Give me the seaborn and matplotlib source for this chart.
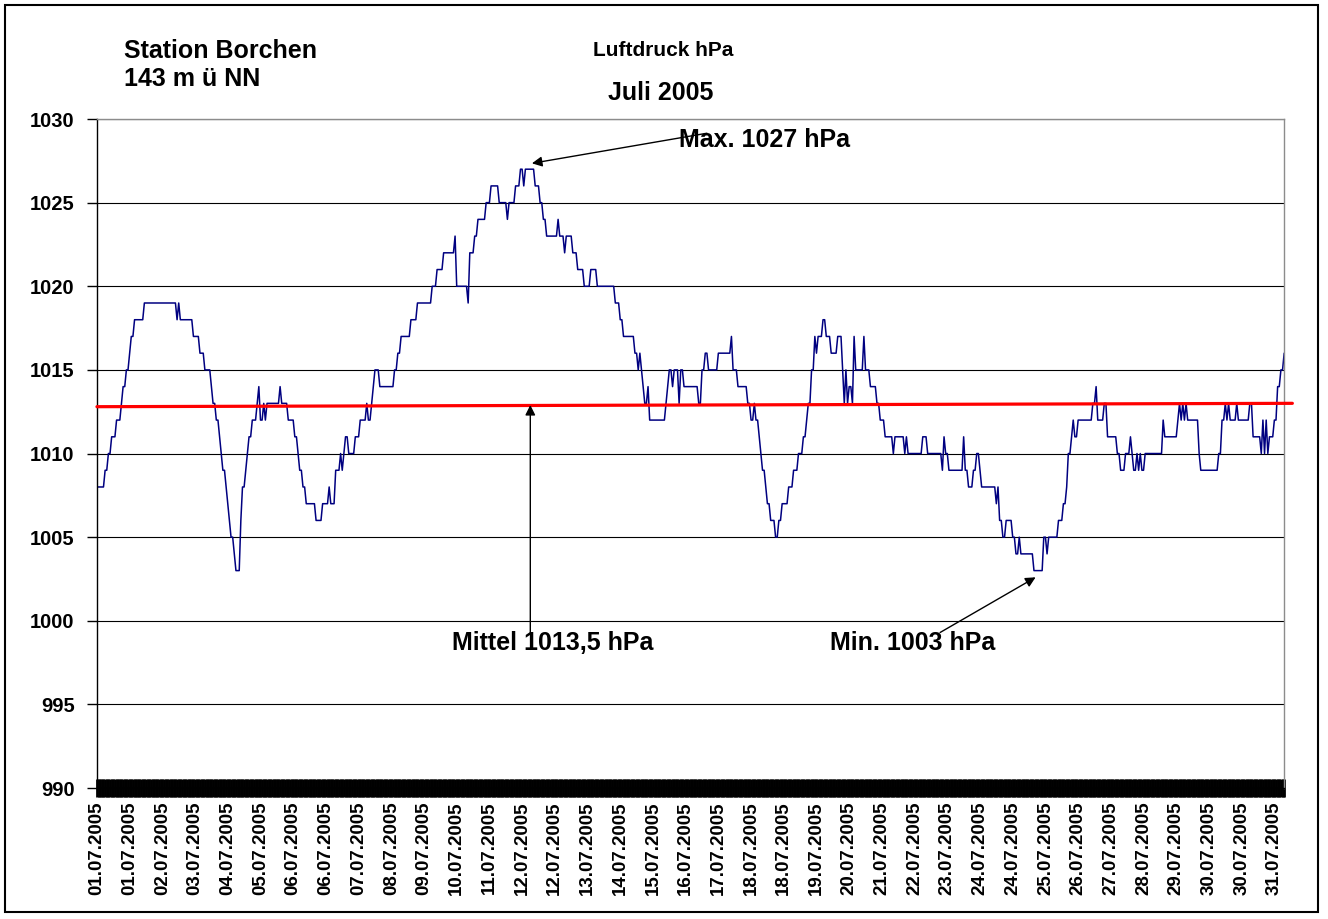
import numpy as np
import pandas as pd
import seaborn as sns
import matplotlib
matplotlib.use('Agg')
import matplotlib.pyplot as plt
from matplotlib.patches import Rectangle

# hourly readings, stored as "hour where the value changes" + new value
n_hours = 727
change_hour = [
    0, 5, 7, 9, 12, 15, 16, 18, 20, 21, 23, 29, 49, 50, 51, 59, 63, 66, 70, 71,
    73, 75, 76, 77, 79, 80, 81, 82, 84, 85, 88, 89, 91, 92, 93, 95, 98, 99, 100, 102,
    103, 104, 112, 113, 117,
    121, 123, 124, 126, 128, 134, 138, 142, 143, 146, 149, 150, 151, 152, 154, 158, 161, 165, 166, 168,
    169, 170, 173, 182, 184, 186, 192, 196, 205, 208, 212, 219, 220, 227, 228, 231, 233, 238,
    241, 246, 251, 252, 256, 259, 261, 262, 268, 271, 273, 275, 282, 283, 286, 287, 291, 294, 298, 302,
    306, 317, 320, 322, 329, 331, 332, 333, 334, 335, 337, 338, 348, 349, 350, 352, 353, 356, 357, 359,
    368, 370, 372, 374, 380, 388, 389, 392, 398, 400, 402, 403, 405, 406, 407, 409, 410, 412, 415, 417,
    419, 423, 426, 429, 432, 434, 435, 437, 439, 440, 441, 444, 446, 449, 453, 456, 457, 458, 459, 460,
    462, 463, 464, 469, 470, 473, 477, 479, 482,
    487, 488, 494, 495, 496, 505, 508, 517, 518, 519, 521, 530, 531, 533, 536, 538, 540, 541, 550, 551,
    552, 554, 556, 560, 562, 564, 565, 573, 579, 581, 582, 588, 591, 593, 594, 596, 597, 598, 600,
    609, 611, 612, 616, 618, 624, 626, 629, 632, 633, 634, 636, 637, 638, 639, 641, 652, 653, 661, 662,
    663, 664, 665, 666, 667, 674, 675, 686, 688, 690, 691, 692, 693, 697, 698, 705, 707, 712, 713, 714,
    715, 716, 717, 720, 722, 724, 726,
]
pressure_hpa = [
    1008, 1009, 1010, 1011, 1012, 1013, 1014, 1015, 1016, 1017, 1018, 1019, 1018, 1019, 1018, 1017, 1016, 1015, 1014, 1013,
    1012, 1011, 1010, 1009, 1008, 1007, 1006, 1005, 1004, 1003, 1006, 1008, 1009, 1010, 1011, 1012, 1013, 1014, 1012, 1013,
    1012, 1013, 1014, 1013, 1012,
    1011, 1010, 1009, 1008, 1007, 1006, 1007, 1008, 1007, 1009, 1010, 1009, 1010, 1011, 1010, 1011, 1012, 1013, 1012, 1013,
    1014, 1015, 1014, 1015, 1016, 1017, 1018, 1019, 1020, 1021, 1022, 1023, 1020, 1019, 1022, 1023, 1024, 1025,
    1026, 1025, 1024, 1025, 1026, 1027, 1026, 1027, 1026, 1025, 1024, 1023, 1024, 1023, 1022, 1023, 1022, 1021, 1020, 1021,
    1020, 1019, 1018, 1017, 1016, 1015, 1016, 1015, 1014, 1013, 1014, 1012, 1013, 1014, 1015, 1014, 1015, 1013, 1015, 1014,
    1013, 1015, 1016, 1015, 1016, 1017, 1015, 1014, 1013, 1012, 1013, 1012, 1011, 1010, 1009, 1008, 1007, 1006, 1005, 1006,
    1007, 1008, 1009, 1010, 1011, 1012, 1013, 1015, 1017, 1016, 1017, 1018, 1017, 1016, 1017, 1015, 1013, 1015, 1013, 1014,
    1013, 1017, 1015, 1017, 1015, 1014, 1013, 1012, 1011,
    1010, 1011, 1010, 1011, 1010, 1011, 1010, 1009, 1011, 1010, 1009, 1011, 1009, 1008, 1009, 1010, 1009, 1008, 1007, 1008,
    1006, 1005, 1006, 1005, 1004, 1005, 1004, 1003, 1005, 1004, 1005, 1006, 1007, 1008, 1010, 1011, 1012, 1011, 1012,
    1013, 1014, 1012, 1013, 1011, 1010, 1009, 1010, 1011, 1010, 1009, 1010, 1009, 1010, 1009, 1010, 1012, 1011, 1012, 1013,
    1012, 1013, 1012, 1013, 1012, 1010, 1009, 1010, 1012, 1013, 1012, 1013, 1012, 1013, 1012, 1013, 1011, 1010, 1012, 1010,
    1012, 1010, 1011, 1012, 1014, 1015, 1016,
]
assert len(change_hour) == len(pressure_hpa)

label_days = ['01', '01', '02', '03', '04', '05', '06', '06', '07', '08', '09', '10', '11', '12',
              '12', '13', '14', '15', '16', '17', '18', '18', '19', '20', '21', '22',
              '23', '24', '24', '25', '26', '27', '28', '29', '30', '30', '31']
label_step = 20

# trend line drawn as "Mittel"
trend_start, trend_end = 1012.8, 1013.0

hours = np.arange(n_hours)
counts = np.diff(change_hour + [n_hours])
df = pd.DataFrame({'hour': hours, 'hPa': np.repeat(pressure_hpa, counts)})

sns.set_style('white')
plt.rcParams['font.family'] = ['Liberation Sans', 'DejaVu Sans']
plt.rcParams['font.weight'] = 'bold'
for key in ['text.color', 'xtick.color', 'ytick.color', 'axes.labelcolor']:
    plt.rcParams[key] = 'black'

fig = plt.figure(figsize=(13.28, 9.19), dpi=100)
ax = fig.add_axes([0.073, 0.1425, 0.894, 0.728])

sns.lineplot(data=df, x='hour', y='hPa', ax=ax, color='#000080', lw=1.1)

slope = (trend_end - trend_start) / (n_hours - 1)
x_end = n_hours + 4
ax.plot([0, x_end], [trend_start, trend_start + slope * x_end], color='red', lw=2.3,
        clip_on=False, zorder=3)

ax.set_xlim(0, n_hours - 1)
ax.set_ylim(990, 1030)
ax.set_yticks(range(990, 1031, 5))
ax.set_xticks(hours[::label_step][:len(label_days)])
ax.set_xticklabels([d + '.07.2005' for d in label_days])
ax.set_xticks(hours, minor=True)
ax.set_xlabel('')
ax.set_ylabel('')

# one tick per reading -> dense black band along the bottom axis
ax.tick_params(axis='x', which='both', bottom=True, direction='inout', length=13,
               width=2, color='black', pad=3)
ax.tick_params(axis='x', which='major', labelrotation=90, labelsize=13.5,
               labelcolor='black')
ax.tick_params(axis='y', direction='out', length=7, width=1, color='black',
               labelsize=14.5, pad=9, left=True, labelcolor='black')

ax.grid(axis='y', color='black', lw=0.8)
ax.grid(axis='x', visible=False)
ax.set_axisbelow(True)
for side in ['top', 'right']:
    ax.spines[side].set_color('#8c8c8c')
    ax.spines[side].set_linewidth(1)
for side in ['left', 'bottom']:
    ax.spines[side].set_color('black')
    ax.spines[side].set_linewidth(1)

arrow = dict(arrowstyle='-|>', color='black', lw=1, mutation_scale=15,
             shrinkA=0, shrinkB=0)
ax.annotate('', xy=(266, 1027.35), xytext=(373, 1029.15), arrowprops=arrow)
ax.text(356, 1028.75, 'Max. 1027 hPa', fontsize=18, fontweight='bold', va='center',
        color='black')

ax.annotate('', xy=(265, 1012.9), xytext=(265, 999.3), arrowprops=arrow)
ax.text(217, 998.67, 'Mittel 1013,5 hPa', fontsize=18, fontweight='bold', va='center',
        color='black')

ax.annotate('', xy=(574, 1002.6), xytext=(515.6, 999.3), arrowprops=arrow)
ax.text(448, 998.67, 'Min. 1003 hPa', fontsize=18, fontweight='bold', va='center',
        color='black')

W, H = 1328, 919
fig.text(124 / W, 1 - 51 / H, 'Station Borchen', fontsize=18, fontweight='bold',
         va='center', color='black')
fig.text(124 / W, 1 - 79 / H, '143 m ü NN', fontsize=18, fontweight='bold',
         va='center', color='black')
fig.text(663 / W, 1 - 50 / H, 'Luftdruck hPa', fontsize=15, fontweight='bold',
         ha='center', va='center', color='black')
fig.text(661 / W, 1 - 93 / H, 'Juli 2005', fontsize=18, fontweight='bold',
         ha='center', va='center', color='black')

fig.patches.append(Rectangle((5 / W, 7 / H), 1313 / W, 907 / H, transform=fig.transFigure,
                             fill=False, ec='black', lw=1.5))

fig.savefig('out.png', dpi=100)
